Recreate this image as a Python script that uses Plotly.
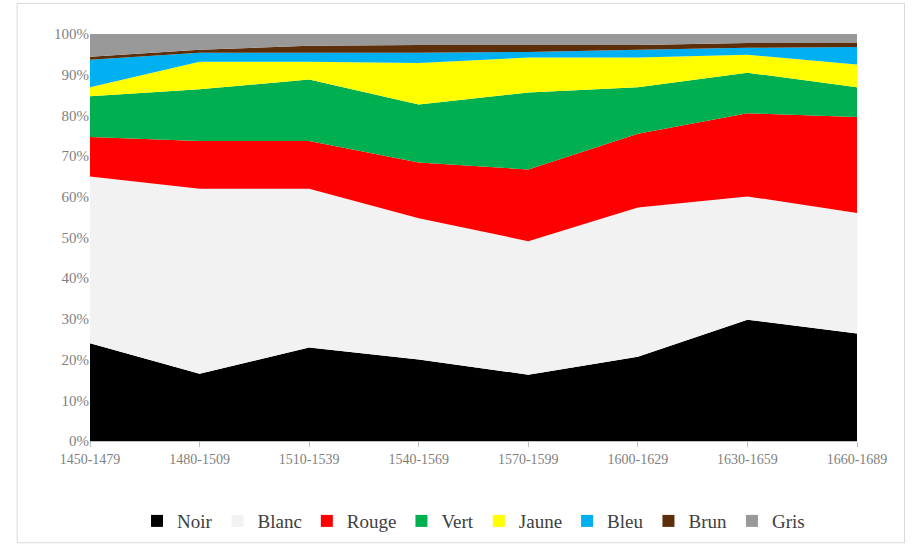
import plotly.graph_objects as go

periods = ["1450-1479", "1480-1509", "1510-1539", "1540-1569",
           "1570-1599", "1600-1629", "1630-1659", "1660-1689"]

noir  = [24.0, 16.5, 23.0, 20.0, 16.3, 20.7, 29.8, 26.4]
blanc = [41.0, 45.5, 39.0, 34.7, 32.8, 36.7, 30.3, 29.6]
rouge = [9.7, 11.7, 11.7, 13.7, 17.6, 18.1, 20.4, 23.6]
vert  = [10.0, 12.7, 15.1, 14.3, 18.9, 11.4, 10.0, 7.3]
jaune = [2.2, 6.8, 4.4, 10.2, 8.6, 7.3, 4.4, 5.6]
bleu  = [6.8, 2.2, 2.2, 2.5, 1.4, 1.9, 1.7, 4.3]
brun  = [0.7, 0.7, 1.7, 1.9, 1.7, 1.2, 1.2, 1.0]
gris  = [5.6, 3.9, 2.9, 2.7, 2.7, 2.7, 2.2, 2.2]

series = [
    ("Noir", noir, "#000000"),
    ("Blanc", blanc, "#F2F2F2"),
    ("Rouge", rouge, "#FF0000"),
    ("Vert", vert, "#00B050"),
    ("Jaune", jaune, "#FFFF00"),
    ("Bleu", bleu, "#00B0F0"),
    ("Brun", brun, "#5C2E0A"),
    ("Gris", gris, "#999999"),
]

fig = go.Figure()
for name, vals, col in series:
    fig.add_trace(go.Scatter(
        x=periods, y=vals, name=name, mode="none",
        stackgroup="one", groupnorm="percent",
        fillcolor=col, showlegend=False, legendgroup=name,
    ))
# legend entries with square swatches
for name, vals, col in series:
    fig.add_trace(go.Bar(
        x=[periods[0]], y=[None], name=name, legendgroup=name,
        marker=dict(color=col, line=dict(width=0)), showlegend=True,
    ))

font_fam = "Liberation Serif, DejaVu Serif, serif"
fig.update_layout(
    width=912, height=552,
    margin=dict(l=90, r=55, t=34, b=107),
    paper_bgcolor="white", plot_bgcolor="white",
    font=dict(family=font_fam, color="#7F7F7F", size=13),
    showlegend=True,
    legend=dict(orientation="h", x=0.5, xanchor="center", y=-0.15, yanchor="top",
                font=dict(family=font_fam, size=19, color="#404040"),
                traceorder="normal", itemwidth=30),
    xaxis=dict(range=[0, 7], showgrid=False, zeroline=False,
               showline=True, linecolor="#BFBFBF", ticks="outside",
               tickcolor="#BFBFBF", ticklen=5, tickfont=dict(size=14)),
    yaxis=dict(range=[0, 100], dtick=10, ticksuffix="%", showgrid=False,
               zeroline=False, tickfont=dict(size=15)),
    shapes=[dict(type="rect", xref="paper", yref="paper",
                 x0=-0.095, x1=1.062, y0=-0.25, y1=1.075,
                 line=dict(color="#D9D9D9", width=1))],
)

fig.write_html("out.html")
